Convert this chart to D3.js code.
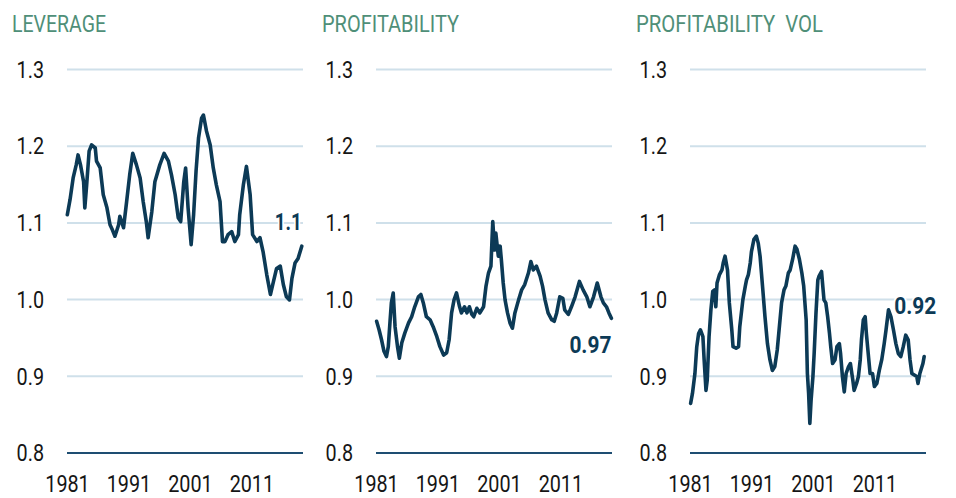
<!DOCTYPE html>
<html><head><meta charset="utf-8">
<script src="https://cdn.jsdelivr.net/npm/d3@7"></script>
<style>
html,body{margin:0;padding:0;background:#fff;}
svg{display:block;font-family:Roboto,"Open Sans",sans-serif;}
</style></head>
<body><svg id="c" width="956" height="498"></svg>
<script>
// ---------- data ----------
const panelTitles = ["LEVERAGE", "PROFITABILITY", "PROFITABILITY  VOL"];
const endLabels = ["1.1", "0.97", "0.92"];
const yTicks = [0.8, 0.9, 1.0, 1.1, 1.2, 1.3];
const xTicks = [1981, 1991, 2001, 2011];

const leverageYears = [1981.05,1981.5,1982.0,1982.5,1982.8,1983.2,1983.7,1983.9,1984.2,1984.6,1985.0,1985.6,1985.8,1986.4,1986.9,1987.5,1988.0,1988.4,1988.8,1989.4,1989.6,1990.2,1990.7,1991.2,1991.7,1992.3,1992.9,1993.4,1993.9,1994.2,1994.8,1995.3,1996.1,1996.8,1997.5,1998.0,1998.6,1999.1,1999.5,2000.0,2000.3,2000.7,2001.2,2001.6,2002.0,2002.4,2002.9,2003.2,2003.7,2004.3,2004.8,2005.3,2005.9,2006.3,2006.7,2007.2,2007.8,2008.3,2008.9,2009.1,2009.7,2010.2,2010.8,2011.2,2011.9,2012.4,2012.9,2013.5,2014.1,2014.6,2015.1,2015.7,2016.2,2016.7,2017.2,2017.6,2018.1,2018.6,2019.2];
const leverageValues = [1.110,1.130,1.158,1.175,1.188,1.175,1.153,1.119,1.149,1.193,1.201,1.197,1.180,1.171,1.136,1.119,1.097,1.090,1.082,1.097,1.108,1.093,1.127,1.162,1.190,1.175,1.158,1.127,1.101,1.080,1.114,1.153,1.175,1.190,1.180,1.162,1.136,1.106,1.101,1.153,1.171,1.119,1.071,1.110,1.167,1.210,1.236,1.240,1.219,1.201,1.171,1.149,1.127,1.075,1.075,1.084,1.088,1.075,1.084,1.110,1.149,1.173,1.136,1.084,1.075,1.080,1.062,1.032,1.006,1.023,1.040,1.043,1.019,1.003,0.999,1.027,1.047,1.053,1.069];

const profitYears = [1981.1,1981.5,1981.9,1982.3,1982.7,1983.0,1983.3,1983.5,1983.8,1984.1,1984.5,1984.8,1985.2,1985.7,1986.3,1986.8,1987.3,1987.9,1988.3,1988.7,1989.2,1989.8,1990.3,1990.9,1991.4,1992.0,1992.5,1992.9,1993.3,1993.7,1994.1,1994.6,1994.9,1995.4,1995.8,1996.2,1996.6,1996.9,1997.4,1997.9,1998.5,1998.9,1999.3,1999.7,2000.0,2000.3,2000.5,2000.9,2001.2,2001.4,2001.7,2002.0,2002.4,2002.8,2003.2,2003.6,2004.2,2004.7,2005.2,2005.8,2006.2,2006.6,2007.1,2007.7,2008.1,2008.5,2009.0,2009.6,2010.0,2010.4,2010.9,2011.4,2011.7,2012.3,2012.8,2013.4,2014.1,2014.7,2015.3,2015.8,2016.4,2017.0,2017.6,2018.0,2018.5,2018.9,2019.3];
const profitValues = [0.971,0.960,0.947,0.932,0.925,0.938,0.973,0.995,1.008,0.964,0.938,0.923,0.943,0.956,0.969,0.977,0.990,1.003,1.006,0.995,0.977,0.973,0.964,0.951,0.938,0.927,0.930,0.947,0.982,0.999,1.008,0.990,0.982,0.990,0.982,0.990,0.980,0.977,0.988,0.982,0.990,1.017,1.034,1.043,1.101,1.064,1.086,1.056,1.069,1.051,1.021,0.999,0.982,0.969,0.962,0.982,0.999,1.012,1.019,1.034,1.049,1.038,1.043,1.030,1.017,0.999,0.982,0.973,0.971,0.982,1.003,1.001,0.986,0.980,0.990,1.003,1.023,1.012,1.003,0.990,1.003,1.021,1.003,0.995,0.990,0.982,0.975];

const profitVolYears = [1981.1,1981.4,1981.8,1982.1,1982.4,1982.7,1983.1,1983.3,1983.6,1983.8,1984.1,1984.4,1984.7,1985.0,1985.2,1985.4,1985.8,1986.2,1986.4,1986.7,1987.1,1987.4,1987.8,1988.0,1988.5,1988.9,1989.1,1989.6,1990.0,1990.2,1990.5,1990.8,1991.0,1991.4,1991.8,1992.1,1992.4,1992.8,1993.2,1993.6,1994.0,1994.4,1994.8,1995.2,1995.6,1995.9,1996.3,1996.6,1997.0,1997.3,1997.7,1998.1,1998.4,1998.8,1999.2,1999.5,1999.9,2000.1,2000.3,2000.5,2000.7,2001.0,2001.2,2001.5,2001.8,2002.0,2002.4,2002.8,2003.1,2003.4,2003.7,2003.9,2004.2,2004.6,2004.9,2005.3,2005.5,2005.8,2006.1,2006.4,2006.8,2007.1,2007.5,2007.7,2008.1,2008.4,2008.7,2008.9,2009.2,2009.5,2009.7,2010.0,2010.3,2010.7,2011.0,2011.4,2011.8,2012.2,2012.6,2012.9,2013.3,2013.7,2014.1,2014.5,2014.9,2015.3,2015.7,2016.1,2016.5,2016.8,2017.1,2017.5,2017.9,2018.1,2018.4,2018.9,2019.1];
const profitVolValues = [0.864,0.877,0.903,0.938,0.955,0.960,0.951,0.921,0.881,0.894,0.951,0.986,1.010,1.012,0.990,1.021,1.032,1.038,1.047,1.056,1.038,0.995,0.960,0.938,0.936,0.938,0.964,0.999,1.017,1.025,1.032,1.047,1.062,1.078,1.082,1.073,1.056,1.017,0.977,0.942,0.921,0.907,0.912,0.934,0.969,0.995,1.012,1.017,1.034,1.038,1.052,1.069,1.065,1.052,1.034,1.017,0.973,0.903,0.877,0.838,0.868,0.899,0.929,0.982,1.025,1.030,1.036,0.999,0.995,0.977,0.955,0.938,0.916,0.921,0.938,0.942,0.929,0.899,0.879,0.903,0.912,0.916,0.894,0.881,0.890,0.899,0.921,0.947,0.973,0.977,0.955,0.929,0.903,0.903,0.886,0.890,0.907,0.921,0.942,0.960,0.986,0.977,0.960,0.942,0.929,0.925,0.938,0.953,0.947,0.921,0.903,0.901,0.899,0.890,0.903,0.916,0.925];

// ---------- layout ----------
const panels = [
  {years: leverageYears, values: leverageValues, left: 67, titleX: 12, titleW: 94, labelDx: 0, labelDy: -16, labelW: 27},
  {years: profitYears, values: profitValues, left: 376, titleX: 322, titleW: 137, labelDx: 0, labelDy: 35, labelW: 42},
  {years: profitVolYears, values: profitVolValues, left: 690, titleX: 636, titleW: 187, labelDx: 12, labelDy: -43, labelW: 42}
];
const plotW = 236, plotTop = 69, plotBottom = 452.5;
const squeeze = 0.86;
const C = {title: "#4f8f78", text: "#161616", grid: "#cfe0ea", base: "#1e4e72", line: "#0c3a56"};

const svg = d3.select("#c");
const yScale = d3.scaleLinear().domain([0.8, 1.3]).range([plotBottom, plotTop]);

function squeezeText(sel){
  sel.each(function(){
    const w = this.getComputedTextLength();
    d3.select(this).attr("textLength", w * squeeze).attr("lengthAdjust", "spacingAndGlyphs");
  });
}

panels.forEach((p, i) => {
  const xScale = d3.scaleLinear().domain([1981, 2019.4]).range([p.left, p.left + plotW]);
  const g = svg.append("g");

  // title
  g.append("text").attr("x", p.titleX).attr("y", 31.5)
    .attr("font-size", 23).attr("fill", C.title)
    .style("white-space", "pre")
    .attr("textLength", p.titleW).attr("lengthAdjust", "spacingAndGlyphs")
    .text(panelTitles[i]);

  // y axis with gridlines
  const ya = g.append("g").attr("transform", `translate(${p.left},0)`)
    .call(d3.axisLeft(yScale).tickValues(yTicks).tickFormat(d3.format(".1f"))
      .tickSizeInner(-plotW).tickSizeOuter(0).tickPadding(23));
  ya.select(".domain").remove();
  ya.selectAll(".tick line")
    .attr("stroke", d => d === 0.8 ? C.base : C.grid)
    .attr("stroke-width", 2);
  ya.selectAll(".tick text").attr("font-size", 23).attr("fill", C.text)
    .attr("font-family", "Roboto").attr("dy", "0.36em");
  squeezeText(ya.selectAll(".tick text"));

  // x axis
  const xa = g.append("g").attr("transform", `translate(0,${plotBottom})`)
    .call(d3.axisBottom(xScale).tickValues(xTicks).tickFormat(d3.format("d"))
      .tickSize(0).tickPadding(23));
  xa.select(".domain").remove();
  xa.selectAll(".tick text").attr("font-size", 23).attr("fill", C.text)
    .attr("font-family", "Roboto");
  squeezeText(xa.selectAll(".tick text"));

  // line
  const pts = p.years.map((yr, k) => [yr, p.values[k]]);
  g.append("path").datum(pts)
    .attr("fill", "none").attr("stroke", C.line).attr("stroke-width", 3.6)
    .attr("stroke-linejoin", "round").attr("stroke-linecap", "round")
    .attr("d", d3.line().x(d => xScale(d[0])).y(d => yScale(d[1])));

  // end label
  const last = pts[pts.length - 1];
  g.append("text")
    .attr("x", xScale(last[0]) + p.labelDx).attr("y", yScale(last[1]) + p.labelDy)
    .attr("text-anchor", "end").attr("font-size", 23).attr("font-weight", 700)
    .attr("fill", C.line).attr("stroke", "#fff").attr("stroke-width", 4)
    .attr("paint-order", "stroke")
    .attr("textLength", p.labelW).attr("lengthAdjust", "spacingAndGlyphs")
    .text(endLabels[i]);
});
</script></body></html>
